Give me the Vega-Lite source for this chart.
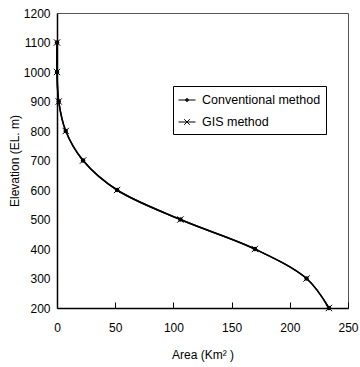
{
  "$schema": "https://vega.github.io/schema/vega-lite/v6.json",
  "width": 291,
  "height": 295,
  "autosize": {"type": "none"},
  "padding": {"left": 57, "top": 13, "right": 12, "bottom": 59},
  "background": "white",
  "config": {
    "view": {"stroke": "#555", "strokeWidth": 1},
    "font": "Liberation Sans",
    "axis": {
      "grid": false,
      "labelFont": "Liberation Sans",
      "labelFontSize": 12,
      "labelColor": "black",
      "titleFont": "Liberation Sans",
      "titleFontSize": 12,
      "titleFontWeight": "normal",
      "titleColor": "black",
      "domainColor": "black",
      "domainWidth": 1.5,
      "tickColor": "black"
    }
  },
  "data": {
    "values": [
      {"series": "Conventional method", "area": 0, "elev": 1100},
      {"series": "Conventional method", "area": 0, "elev": 1000},
      {"series": "Conventional method", "area": 1.5, "elev": 900},
      {"series": "Conventional method", "area": 7.5, "elev": 800},
      {"series": "Conventional method", "area": 22.4, "elev": 700},
      {"series": "Conventional method", "area": 51.6, "elev": 600},
      {"series": "Conventional method", "area": 106, "elev": 500},
      {"series": "Conventional method", "area": 170, "elev": 400},
      {"series": "Conventional method", "area": 214.4, "elev": 300},
      {"series": "Conventional method", "area": 233.6, "elev": 200},
      {"series": "GIS method", "area": 0, "elev": 1100},
      {"series": "GIS method", "area": 0, "elev": 1000},
      {"series": "GIS method", "area": 1.5, "elev": 900},
      {"series": "GIS method", "area": 7.5, "elev": 800},
      {"series": "GIS method", "area": 22.4, "elev": 700},
      {"series": "GIS method", "area": 51.6, "elev": 600},
      {"series": "GIS method", "area": 106, "elev": 500},
      {"series": "GIS method", "area": 170, "elev": 400},
      {"series": "GIS method", "area": 214.4, "elev": 300},
      {"series": "GIS method", "area": 233.6, "elev": 200}
    ]
  },
  "encoding": {
    "x": {
      "field": "area", "type": "quantitative",
      "scale": {"domain": [0, 250], "nice": false, "zero": false},
      "axis": {"values": [0, 50, 100, 150, 200, 250], "format": "d", "title": "Area (Km² )", "tickSize": -6, "labelPadding": 20, "titlePadding": 16, "labelFlush": false}
    },
    "y": {
      "field": "elev", "type": "quantitative",
      "scale": {"domain": [200, 1200], "nice": false, "zero": false},
      "axis": {"values": [200, 300, 400, 500, 600, 700, 800, 900, 1000, 1100, 1200], "format": "d", "title": "Elevation (EL. m)", "ticks": false, "labelPadding": 7, "titlePadding": 2, "labelFlush": false}
    }
  },
  "layer": [
    {
      "mark": {"type": "line", "interpolate": "catmull-rom", "color": "black", "strokeWidth": 1.5},
      "encoding": {
        "order": {"field": "elev", "sort": "descending"},
        "detail": {"field": "series"}
      }
    },
    {
      "transform": [{"filter": "datum.series == 'Conventional method'"}],
      "mark": {"type": "point", "shape": "circle", "filled": true, "color": "black", "size": 20, "opacity": 1}
    },
    {
      "transform": [{"filter": "datum.series == 'GIS method'"}],
      "mark": {"type": "point", "shape": "M-1,-1L1,1M-1,1L1,-1", "filled": false, "color": "black", "strokeWidth": 1, "size": 40, "opacity": 1}
    },
    {
      "mark": {"type": "point", "filled": false, "color": "black", "strokeWidth": 1, "opacity": 0},
      "encoding": {
        "shape": {
          "field": "series", "type": "nominal",
          "scale": {"domain": ["Conventional method", "GIS method"], "range": ["M-1,0H1M-0.17,0A0.17,0.17 0 1,0 0.17,0A0.17,0.17 0 1,0 -0.17,0M-0.07,0A0.07,0.07 0 1,0 0.07,0A0.07,0.07 0 1,0 -0.07,0", "M-1,0H1M-0.33,-0.33L0.33,0.33M-0.33,0.33L0.33,-0.33"]},
          "legend": {
            "title": null,
            "orient": "none",
            "legendX": 116,
            "legendY": 73,
            "strokeColor": "black",
            "fillColor": "white",
            "padding": 5,
            "rowPadding": 6,
            "symbolSize": 289,
            "labelFont": "Liberation Sans",
            "labelFontSize": 12.5,
            "labelColor": "black",
            "labelOffset": 6,
            "labelLimit": 300,
            "symbolOpacity": 1,
            "symbolStrokeColor": "black",
            "symbolStrokeWidth": 1,
            "encode": {
              "symbols": {
                "update": {
                  "stroke": {"value": "black"},
                  "strokeWidth": {"value": 1},
                  "opacity": {"value": 1}
                }
              }
            }
          }
        }
      }
    }
  ]
}
